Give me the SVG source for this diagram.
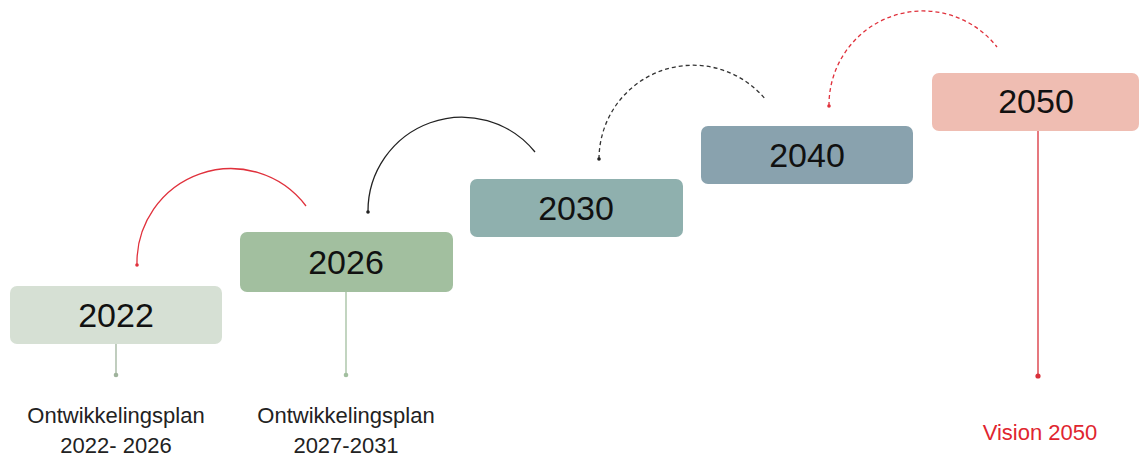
<svg xmlns="http://www.w3.org/2000/svg" width="1140" height="459" viewBox="0 0 1140 459">
<style>
.yr{font-family:"Liberation Sans",Arial,sans-serif;font-size:34px;fill:#111;text-anchor:middle}
.lbl{font-family:"Liberation Sans",Arial,sans-serif;font-size:22px;fill:#222;text-anchor:middle}
.arc{fill:none;stroke-width:1.3}
</style>
<rect width="1140" height="459" fill="#fff"/>
<g id="connectors">
<path class="arc" d="M137,265 A94,94 0 0,1 306,206" stroke="#e0313c"/>
<circle cx="137" cy="265" r="1.8" fill="#e0313c"/>
<path class="arc" d="M368,212 A94,94 0 0,1 535,152" stroke="#222"/>
<circle cx="368" cy="212" r="1.8" fill="#222"/>
<path class="arc" d="M599,159 A94,94 0 0,1 766,100" stroke="#333" stroke-dasharray="4 3"/>
<circle cx="599" cy="159" r="1.8" fill="#222"/>
<path class="arc" d="M829,106 A94,94 0 0,1 997,47" stroke="#e0313c" stroke-dasharray="4 3"/>
<circle cx="829" cy="106" r="1.8" fill="#e0313c"/>
<line x1="116" y1="344" x2="116" y2="375" stroke="#9fb39c" stroke-width="1.3"/>
<circle cx="116" cy="375" r="2.3" fill="#9fb39c"/>
<line x1="346" y1="292" x2="346" y2="375" stroke="#a2bf9f" stroke-width="1.3"/>
<circle cx="346" cy="375" r="2.3" fill="#a2bf9f"/>
<line x1="1038" y1="131" x2="1038" y2="376" stroke="#d9303a" stroke-width="1.3"/>
<circle cx="1038" cy="376" r="2.6" fill="#d9303a"/>
</g>
<g id="n2022">
<rect x="10" y="286" width="212" height="58" rx="7" fill="#d6e0d4"/>
<text class="yr" x="116" y="327">2022</text>
<text class="lbl" x="116" y="423">Ontwikkelingsplan</text>
<text class="lbl" x="116" y="453">2022- 2026</text>
</g>
<g id="n2026">
<rect x="240" y="232" width="213" height="60" rx="7" fill="#a2bf9f"/>
<text class="yr" x="346" y="274">2026</text>
<text class="lbl" x="346" y="423">Ontwikkelingsplan</text>
<text class="lbl" x="346" y="453">2027-2031</text>
</g>
<g id="n2030">
<rect x="470" y="179" width="213" height="58" rx="7" fill="#8fb0ae"/>
<text class="yr" x="576" y="220">2030</text>
</g>
<g id="n2040">
<rect x="701" y="126" width="212" height="58" rx="7" fill="#89a2ae"/>
<text class="yr" x="807" y="167">2040</text>
</g>
<g id="n2050">
<rect x="932" y="73" width="207" height="58" rx="7" fill="#efbdb2"/>
<text class="yr" x="1036" y="113">2050</text>
<text class="lbl" x="1040" y="440" style="fill:#e0252f">Vision 2050</text>
</g>
</svg>
